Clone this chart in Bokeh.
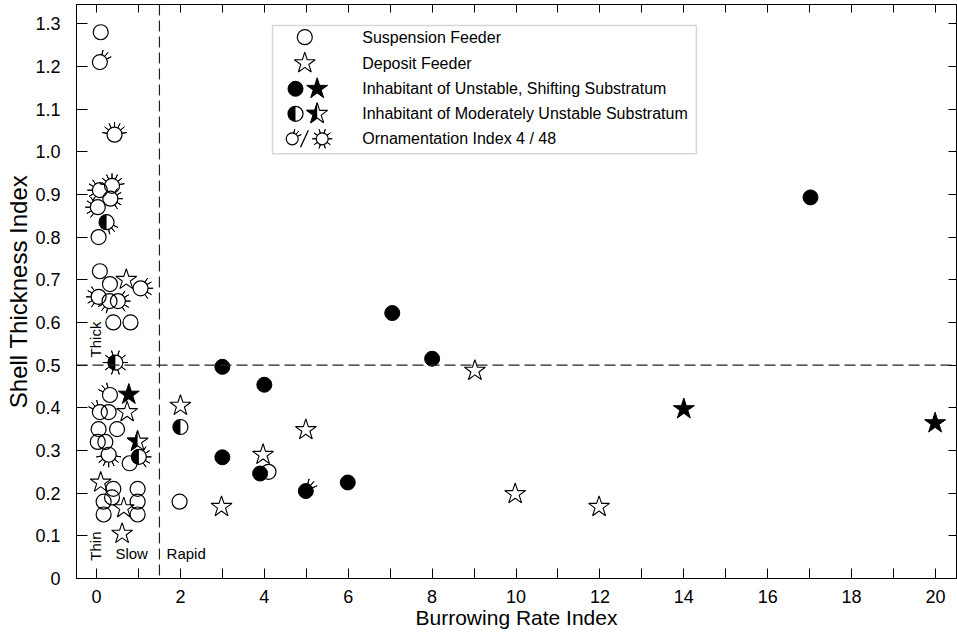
import math
from bokeh.plotting import figure
from bokeh.models import (LinearAxis, FixedTicker, Span, BoxAnnotation, Range1d,
                          PrintfTickFormatter)
from bokeh.core.properties import value
from bokeh.embed import file_html
from bokeh.resources import INLINE

FONT = "Liberation Sans"

# ---------------- data ----------------
# Suspension feeders (open circles) with ornamentation code
susp_x = [0.10, 0.08, 0.43, 0.08, 0.37, 0.33, 0.03, 0.05, 0.08, 0.32, 1.05, 0.05, 0.31,
          0.51, 0.40, 0.81, 0.32, 0.08, 0.29, 0.05, 0.49, 0.03, 0.21, 0.29, 0.79, 0.40,
          0.98, 0.17, 0.37, 0.98, 0.17, 0.98, 1.98, 4.10]
susp_y = [1.28, 1.21, 1.04, 0.91, 0.92, 0.89, 0.87, 0.80, 0.72, 0.69, 0.68, 0.66, 0.65,
          0.65, 0.60, 0.60, 0.43, 0.39, 0.39, 0.35, 0.35, 0.32, 0.32, 0.29, 0.27, 0.21,
          0.21, 0.18, 0.19, 0.18, 0.15, 0.15, 0.18, 0.25]
susp_orn = ["", "tr", "top", "left", "top", "right", "left", "", "", "", "right", "left", "bl",
            "right", "", "", "tl", "tl", "", "", "", "", "", "bottom", "", "",
            "", "", "", "", "", "", "", ""]

# Deposit feeders (open stars)
dep_x = [0.71, 0.73, 0.10, 0.65, 0.61, 2.00, 3.97, 2.98, 4.99, 9.02, 9.98, 11.98]
dep_y = [0.70, 0.39, 0.225, 0.165, 0.105, 0.405, 0.29, 0.168, 0.348, 0.487, 0.198, 0.168]

# Inhabitants of unstable, shifting substratum (filled)
unst_circ_x = [3.00, 4.00, 7.05, 8.00, 3.00, 3.90, 4.99, 5.99, 17.02]
unst_circ_y = [0.496, 0.454, 0.622, 0.515, 0.284, 0.246, 0.205, 0.225, 0.893]
unst_circ_orn = ["", "", "", "", "", "", "tr", "", ""]
unst_star_x = [0.77, 14.00, 19.99]
unst_star_y = [0.431, 0.397, 0.364]

# Inhabitants of moderately unstable substratum (half filled)
mod_circ_x = [0.24, 0.45, 2.00, 1.01]
mod_circ_y = [0.835, 0.506, 0.355, 0.285]
mod_circ_orn = ["br", "full", "", "right"]
mod_star_x = [0.98]
mod_star_y = [0.321]

x_major = [0, 2, 4, 6, 8, 10, 12, 14, 16, 18, 20]
x_minor = [1, 3, 5, 7, 9, 11, 13, 15, 17, 19]
x_all = list(range(0, 21))
y_ticks = [0.0, 0.1, 0.2, 0.3, 0.4, 0.5, 0.6, 0.7, 0.8, 0.9, 1.0, 1.1, 1.2, 1.3]

legend_labels = ["Suspension Feeder", "Deposit Feeder",
                 "Inhabitant of Unstable, Shifting Substratum",
                 "Inhabitant of Moderately Unstable Substratum",
                 "Ornamentation Index 4 / 48"]

# ornament spike directions (degrees) by code
ORN = {
    "tr": [25, 50, 75],
    "tl": [105, 130, 155],
    "br": [-25, -50, -75],
    "bl": [205, 230, 255],
    "left": [125, 150, 180, 210, 235],
    "right": [-55, -30, 0, 30, 55],
    "top": [10, 38, 64, 90, 116, 142, 170],
    "bottom": [190, 218, 244, 270, 296, 322, 350],
    "full": [0, 36, 72, 108, 144, 180, 216, 252, 288, 324],
}

# ---------------- figure ----------------
p = figure(width=957, height=635, x_range=Range1d(-0.477, 20.50), y_range=Range1d(0, 1.345),
           output_backend="svg", toolbar_location=None,
           min_border_left=76, min_border_right=1, min_border_top=4, min_border_bottom=57,
           x_axis_label="Burrowing Rate Index", y_axis_label="Shell Thickness Index")
p.grid.visible = False
p.outline_line_color = "black"
p.background_fill_color = "white"

xa = p.xaxis[0]
xa.ticker = FixedTicker(ticks=x_major, minor_ticks=x_minor)
xa.axis_line_color = "black"
xa.major_tick_line_color = "black"
xa.minor_tick_line_color = "black"
xa.major_tick_in = 10
xa.major_tick_out = 0
xa.minor_tick_in = 10
xa.minor_tick_out = 0
xa.major_label_standoff = 11
xa.axis_label_standoff = 0
xa.major_label_text_font = FONT
xa.major_label_text_font_size = "18px"
xa.major_label_text_color = "black"
xa.axis_label_text_font = FONT
xa.axis_label_text_font_size = "21px"
xa.axis_label_text_font_style = "normal"
xa.axis_label_text_color = "black"

ya = p.yaxis[0]
ya.ticker = FixedTicker(ticks=y_ticks, minor_ticks=[])
ya.formatter = PrintfTickFormatter(format="%.1f")
ya.major_label_overrides = {0: "0"}
ya.axis_line_color = "black"
ya.major_tick_line_color = "black"
ya.major_tick_in = 11
ya.major_tick_out = 0
ya.minor_tick_in = 0
ya.minor_tick_out = 0
ya.major_label_standoff = 16
ya.axis_label_standoff = 0
ya.major_label_text_font = FONT
ya.major_label_text_font_size = "18px"
ya.major_label_text_color = "black"
ya.axis_label_text_font = FONT
ya.axis_label_text_font_size = "24px"
ya.axis_label_text_font_style = "normal"
ya.axis_label_text_color = "black"

top = LinearAxis(ticker=FixedTicker(ticks=x_all, minor_ticks=[]), major_tick_in=8, major_tick_out=0,
                 minor_tick_in=0, minor_tick_out=0, major_label_standoff=0, axis_label_standoff=0,
                 major_label_overrides={t: "" for t in x_all}, axis_line_color="black",
                 major_tick_line_color="black")
p.add_layout(top, "above")
right = LinearAxis(ticker=FixedTicker(ticks=y_ticks, minor_ticks=[]), major_tick_in=8, major_tick_out=0,
                   minor_tick_in=0, minor_tick_out=0, major_label_standoff=0, axis_label_standoff=0,
                   major_label_overrides={t: "" for t in y_ticks}, axis_line_color="black",
                   major_tick_line_color="black")
p.add_layout(right, "right")

# dashed divider lines
p.add_layout(Span(location=0.5, dimension="width", line_color="#222222", line_width=1.2, line_dash="11 5"))
p.add_layout(Span(location=1.5, dimension="height", line_color="#222222", line_width=1.2, line_dash="11 5"))

CS = 15      # circle diameter (px)
SS = 22      # star size (px)
R = CS / 2


def half_star(xs, ys, size=SS):
    p.scatter(xs, ys, marker="star", size=size, fill_color="black", line_color="black")
    p.wedge(xs, ys, radius=size / 2 + 1, radius_units="screen", start_angle=-math.pi / 2,
            end_angle=math.pi / 2, fill_color="white", line_color=None)
    p.scatter(xs, ys, marker="star", size=size, fill_color=None, line_color="black", line_width=1.1)


def half_circle(xs, ys, size=CS):
    p.wedge(xs, ys, radius=size / 2, radius_units="screen", start_angle=math.pi / 2,
            end_angle=3 * math.pi / 2, fill_color="black", line_color=None)
    p.scatter(xs, ys, marker="circle", size=size, fill_color=None, line_color="black", line_width=1.2)


def spikes(xs, ys, codes, r_in=R, length=5):
    sx, sy, sa = [], [], []
    for x, y, c in zip(xs, ys, codes):
        for a in ORN.get(c, []):
            sx.append(x)
            sy.append(y)
            sa.append(math.radians(a))
    if sx:
        p.annular_wedge(sx, sy, inner_radius=r_in, outer_radius=r_in + length,
                        inner_radius_units="screen", outer_radius_units="screen",
                        start_angle=sa, end_angle=[a + 0.002 for a in sa],
                        fill_color=None, line_color="black", line_width=1)


# half-filled stars first (they use a white mask)
half_star(mod_star_x, mod_star_y)

# suspension feeders
p.scatter(susp_x, susp_y, marker="circle", size=CS, fill_color=None, line_color="black", line_width=1.2)
spikes(susp_x, susp_y, susp_orn)

# deposit feeders
p.scatter(dep_x, dep_y, marker="star", size=SS, fill_color=None, line_color="black", line_width=1.1)

# unstable substratum
p.scatter(unst_circ_x, unst_circ_y, marker="circle", size=CS, fill_color="black", line_color="black")
spikes(unst_circ_x, unst_circ_y, unst_circ_orn)
p.scatter(unst_star_x, unst_star_y, marker="star", size=SS, fill_color="black", line_color="black")

# moderately unstable substratum
half_circle(mod_circ_x, mod_circ_y)
spikes(mod_circ_x, mod_circ_y, mod_circ_orn)

# region labels
txt = dict(text_font=value(FONT), text_font_size="15px", text_color="black")
p.text(x=[-0.02, -0.02], y=[0.56, 0.076], text=["Thick", "Thin"], angle=math.pi / 2,
       text_align="center", text_baseline="middle", **txt)
p.text(x=[0.45, 1.67], y=[0.058, 0.058], text=["Slow", "Rapid"],
       text_align="left", text_baseline="middle", **txt)

# ---------------- legend ----------------
LB = dict(left=4.195, right=14.3, top=1.296, bottom=0.995)
p.add_layout(BoxAnnotation(left=LB["left"], right=LB["right"], top=LB["top"], bottom=LB["bottom"],
                           fill_color=None, line_color="#777777", line_width=1.5))
rows = [1.2685, 1.2076, 1.1475, 1.0889, 1.0303]
c1, c2, cc = 4.744, 5.26, 4.965
ltxt = dict(text_font=value(FONT), text_font_size="16px", text_color="black")
p.scatter([cc], [rows[0]], marker="circle", size=15, fill_color=None, line_color="black", line_width=1.2)
p.scatter([cc], [rows[1]], marker="star", size=SS, fill_color=None, line_color="black", line_width=1.1)
p.scatter([c1], [rows[2]], marker="circle", size=15, fill_color="black", line_color="black")
p.scatter([c2], [rows[2]], marker="star", size=SS, fill_color="black", line_color="black")
half_star([c2], [rows[3]])
half_circle([c1], [rows[3]], size=15)
p.scatter([4.665, 5.38], [rows[4], rows[4]], marker="circle", size=12, fill_color=None,
          line_color="black", line_width=1.2)
spikes([4.665, 5.38], [rows[4], rows[4]], ["tr", "full"], r_in=6, length=4)
p.segment(x0=[4.863], y0=[rows[4] - 0.02], x1=[5.05], y1=[rows[4] + 0.02], line_color="black", line_width=1.3)
p.text(x=[6.334] * 5, y=rows, text=legend_labels, text_align="left", text_baseline="middle", **ltxt)

open("out.html", "w").write(file_html(p, INLINE))
